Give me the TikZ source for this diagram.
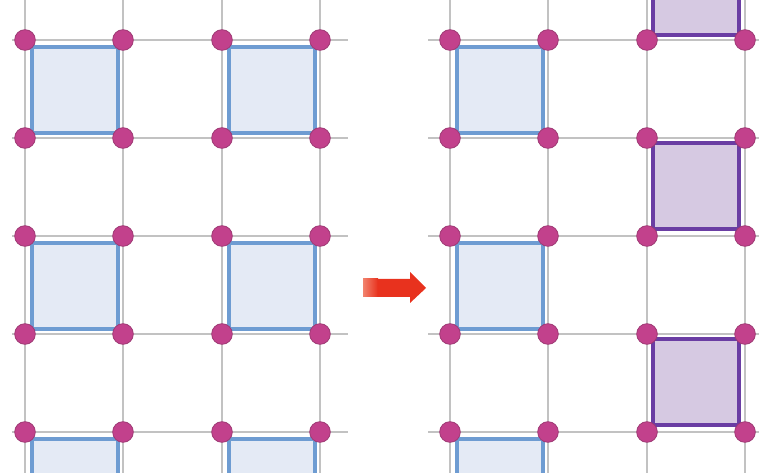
\documentclass[tikz,border=0pt]{standalone}
\usetikzlibrary{calc}
\definecolor{gridgray}{HTML}{C2C2C2}
\definecolor{dotfill}{HTML}{C2418C}
\definecolor{dotdraw}{HTML}{9E3A74}
\definecolor{bluefill}{HTML}{E4EAF5}
\definecolor{bluedraw}{HTML}{6E9CD2}
\definecolor{purpfill}{HTML}{D6C9E2}
\definecolor{purpdraw}{HTML}{6A3DA3}
\definecolor{arrowred}{HTML}{E8321E}
\definecolor{arrowlight}{HTML}{F2836E}
\begin{document}
\begin{tikzpicture}[x=0.75pt,y=-0.75pt,
  gridline/.style={draw=gridgray,line width=1.5pt},
  dotnode/.style={circle,fill=dotfill,draw=dotdraw,line width=0.6pt,minimum size=15.5pt,inner sep=0pt},
  bluesq/.style={fill=bluefill,draw=bluedraw,line width=2.4pt},
  purpsq/.style={fill=purpfill,draw=purpdraw,line width=2.4pt}]
\useasboundingbox (0,0) rectangle (759,473);
\begin{scope}
\clip (0,0) rectangle (759,473);
% left grid
\foreach \x in {25,123,222,320} \draw[gridline] (\x,0) -- (\x,473);
\foreach \y in {40,138,236,334,432} \draw[gridline] (12,\y) -- (348,\y);
% right grid
\foreach \x in {450,548,647,745} \draw[gridline] (\x,0) -- (\x,473);
\foreach \y in {40,138,236,334,432} \draw[gridline] (428,\y) -- (759,\y);
% left squares
\foreach \x in {25,222}{
  \foreach \y in {40,236}{
    \draw[bluesq] (\x+7,\y+7) rectangle (\x+93,\y+93);
  }
  \draw[bluesq] (\x+7,439) rectangle (\x+93,490);
}
% right blue squares
\foreach \y in {40,236} \draw[bluesq] (457,\y+7) rectangle (543,\y+93);
\draw[bluesq] (457,439) rectangle (543,490);
% right purple squares
\draw[purpsq] (653,-20) rectangle (739,35);
\foreach \y in {138,334} \draw[purpsq] (653,\y+5) rectangle (739,\y+91);
\end{scope}
% dots
\foreach \x [count=\i] in {25,123,222,320}{
  \foreach \y [count=\j] in {40,138,236,334,432}{
    \node[dotnode] (L\i\j) at (\x,\y) {};
  }
}
\foreach \x [count=\i] in {450,548,647,745}{
  \foreach \y [count=\j] in {40,138,236,334,432}{
    \node[dotnode] (R\i\j) at (\x,\y) {};
  }
}
% arrow
\shade[left color=arrowlight,right color=arrowred] (363,279) rectangle (378,297);
\fill[arrowred] (377.5,279) -- (410,279) -- (410,272) -- (426,288) -- (410,303) -- (410,297) -- (377.5,297) -- cycle;
\end{tikzpicture}
\end{document}
